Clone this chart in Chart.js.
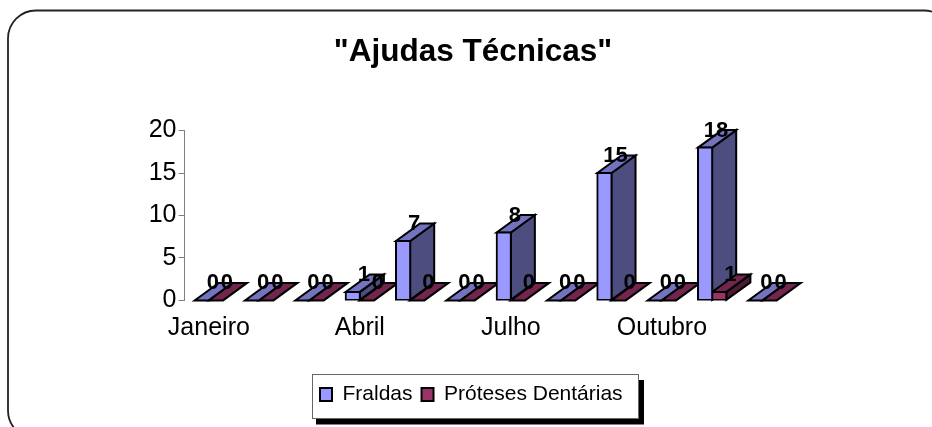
<!DOCTYPE html>
<html>
<head>
<meta charset="utf-8">
<style>html,body{margin:0;padding:0;background:#fff}canvas{display:block}</style>
<script src="https://cdn.jsdelivr.net/npm/chart.js@4"></script>
</head>
<body>
<canvas id="c" width="932" height="427"></canvas>
<script>
const months = ["Janeiro","Fevereiro","Março","Abril","Maio","Junho","Julho","Agosto","Setembro","Outubro","Novembro","Dezembro"];
const fraldas = [0,0,0,1,7,0,8,0,15,0,18,0];
const proteses = [0,0,0,0,0,0,0,0,0,0,1,0];
const yTicks = [0,5,10,15,20];

const FONT = '"Liberation Sans", Arial, sans-serif';
const DX = 24, DY = 17.5;
const shades = [
  {front:"#9999FF", top:"#7373BF", side:"#4D4D80"},
  {front:"#993366", top:"#73264D", side:"#4D1A33"}
];

function poly(ctx, pts, fill){
  ctx.beginPath();
  pts.forEach((p,i)=> i ? ctx.lineTo(p[0],p[1]) : ctx.moveTo(p[0],p[1]));
  ctx.closePath();
  ctx.fillStyle = fill;
  ctx.fill();
  ctx.stroke();
}

const depthPlugin = {
  id:"depth",
  afterLayout(chart){
    const y = chart.scales.y;
    y.left += 0.8; y.right += 0.8;
    const t = chart.titleBlock;
    t.left = 14; t.right = 932;
    const l = chart.legend;
    l.left = 311; l.right = 900; l.top = 375; l.bottom = 419;
  },
  beforeDraw(chart){
    const ctx = chart.ctx;
    ctx.save();
    ctx.fillStyle = "#fff";
    ctx.fillRect(0,0,932,427);
    // outer rounded frame, running off the right and bottom of the picture
    ctx.strokeStyle = "#222";
    ctx.lineWidth = 1.8;
    ctx.beginPath();
    ctx.roundRect(8,10.5,944,428,28);
    ctx.stroke();
    // legend panel with its hard shadow
    ctx.fillStyle = "#000";
    ctx.fillRect(316,380,328,44.5);
    ctx.fillStyle = "#fff";
    ctx.strokeStyle = "#666";
    ctx.lineWidth = 1;
    ctx.fillRect(312.5,374.5,326,44);
    ctx.strokeRect(312.5,374.5,326,44);
    ctx.restore();
  },
  beforeDatasetsDraw(chart){
    const ctx = chart.ctx;
    const metas = [chart.getDatasetMeta(0), chart.getDatasetMeta(1)];
    ctx.save();
    ctx.strokeStyle = "#000";
    ctx.lineWidth = 2;
    ctx.lineJoin = "miter";
    months.forEach((_,i)=>{
      metas.forEach((m,d)=>{
        const e = m.data[i], w = e.width, l = e.x-w/2, r = e.x+w/2, t = e.y, b = e.base, s = shades[d];
        if (b-t > 0.01) poly(ctx,[[r,t],[r,b],[r+DX,b-DY],[r+DX,t-DY]],s.side);
        poly(ctx,[[l,t],[r,t],[r+DX,t-DY],[l+DX,t-DY]],s.top);
      });
    });
    ctx.restore();
  },
  afterDatasetsDraw(chart){
    const ctx = chart.ctx;
    ctx.save();
    ctx.font = "bold 22px "+FONT;
    ctx.fillStyle = "#000";
    ctx.textAlign = "center";
    ctx.textBaseline = "middle";
    [0,1].forEach(d=>{
      const meta = chart.getDatasetMeta(d);
      chart.data.datasets[d].data.forEach((v,i)=>{
        const e = meta.data[i];
        ctx.fillText(String(v), e.x+11, e.y-17);
      });
    });
    ctx.restore();
  }
};

new Chart(document.getElementById("c"),{
  type:"bar",
  data:{
    labels:months,
    datasets:[
      {label:"Fraldas",data:fraldas,backgroundColor:shades[0].front,borderColor:"#000",borderWidth:2,borderSkipped:false,inflateAmount:1,categoryPercentage:0.564,barPercentage:1},
      {label:"Próteses Dentárias",data:proteses,backgroundColor:shades[1].front,borderColor:"#000",borderWidth:2,borderSkipped:false,inflateAmount:1,categoryPercentage:0.564,barPercentage:1}
    ]
  },
  options:{
    responsive:false,
    animation:false,
    layout:{padding:{left:0,right:144.3,top:0,bottom:0}},
    plugins:{
      tooltip:{enabled:false},
      title:{display:true,text:'"Ajudas Técnicas"',color:"#000",font:{family:FONT,size:31.5,weight:"bold"},padding:{top:33,bottom:59.8}},
      legend:{display:true,position:"bottom",align:"start",labels:{color:"#000",font:{family:FONT,size:21},boxWidth:12,boxHeight:13,padding:9}}
    },
    scales:{
      x:{
        grid:{display:false},
        border:{display:false},
        ticks:{color:"#000",font:{family:FONT,size:25},autoSkip:true,maxTicksLimit:4,maxRotation:0,minRotation:0,padding:5},
        afterFit(s){ s.height = 86.6; }
      },
      y:{
        min:yTicks[0],max:yTicks[yTicks.length-1],
        grid:{drawOnChartArea:false,drawTicks:true,tickLength:6,color:"#808080",lineWidth:1},
        border:{display:true,color:"#808080",width:1},
        ticks:{color:"#000",font:{family:FONT,size:25},stepSize:5,padding:2},
        afterFit(s){ s.width = 183.7; }
      }
    }
  },
  plugins:[depthPlugin]
});
</script>
</body>
</html>
